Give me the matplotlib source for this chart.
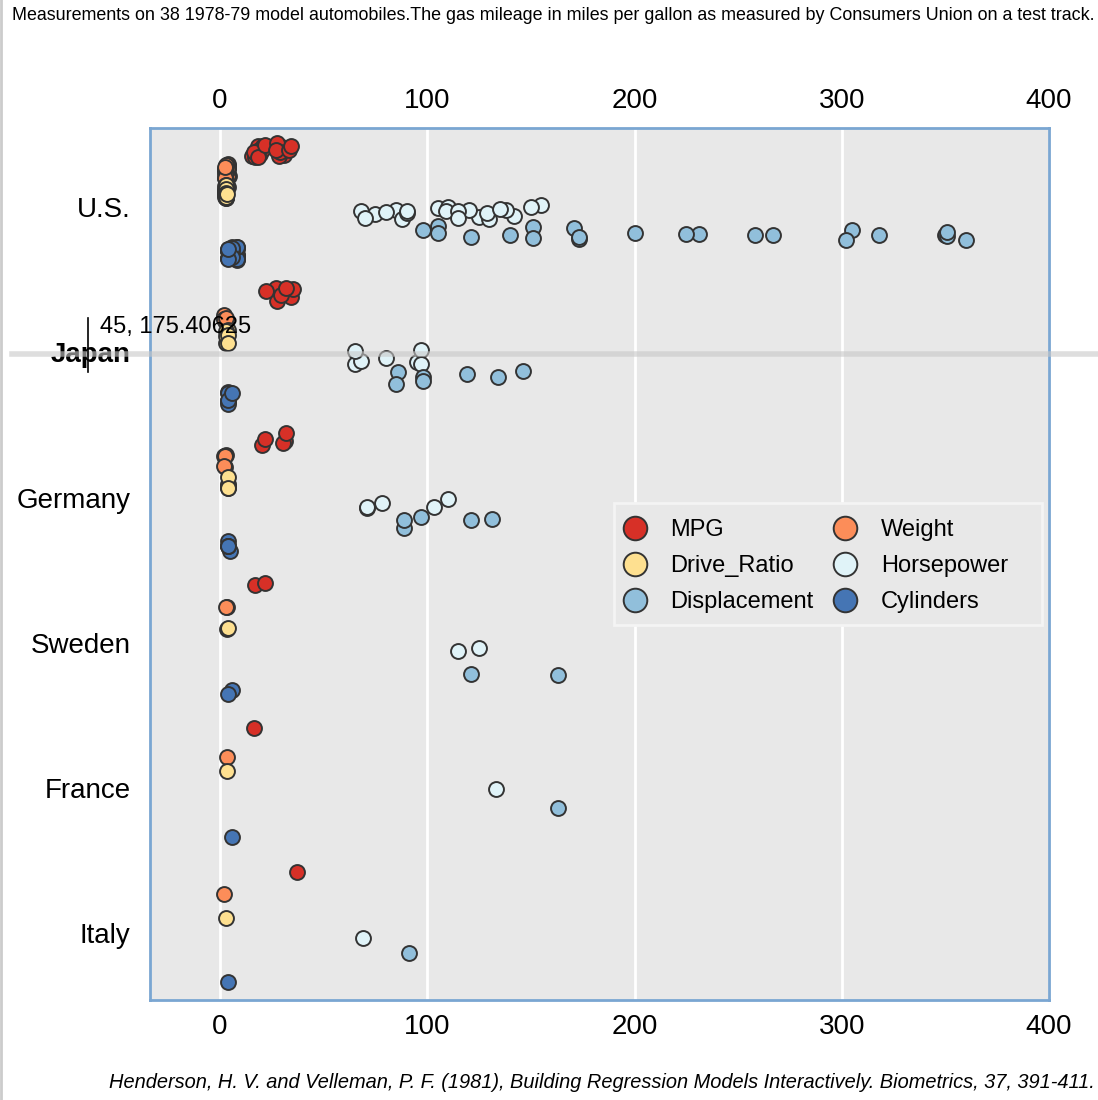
import numpy as np
import matplotlib

matplotlib.use("Agg")
import matplotlib.pyplot as plt
from matplotlib.lines import Line2D
from matplotlib.patches import Rectangle

plt.rcParams.update({"font.family": ["Liberation Sans", "DejaVu Sans"]})

# ---------------------------------------------------------------------------
# Data: 38 cars (Henderson & Velleman 1981)
# ---------------------------------------------------------------------------
countries = ["U.S.", "Japan", "Germany", "Sweden", "France", "Italy"]
variables = ["MPG", "Weight", "Drive_Ratio", "Horsepower", "Displacement", "Cylinders"]
palette = ["#d73027", "#fc8d59", "#fee090", "#e0f3f8", "#91bfdb", "#4575b4"]

country = [
    "U.S.", "U.S.", "U.S.", "U.S.", "U.S.", "Japan", "Japan", "U.S.", "Germany",
    "Sweden", "Sweden", "France", "U.S.", "U.S.", "U.S.", "U.S.", "U.S.", "U.S.",
    "U.S.", "U.S.", "U.S.", "U.S.", "Japan", "Japan", "U.S.", "Germany", "Japan",
    "U.S.", "U.S.", "U.S.", "U.S.", "U.S.", "Japan", "Italy", "Germany", "Japan",
    "Germany", "Germany",
]
mpg = [16.9, 15.5, 19.2, 18.5, 30.0, 27.5, 27.2, 30.9, 20.3, 17.0, 21.6, 16.2,
       20.6, 20.8, 18.6, 18.1, 17.0, 17.6, 16.5, 18.2, 26.5, 21.9, 34.1, 35.1,
       27.4, 31.5, 29.5, 28.4, 28.8, 26.8, 33.5, 34.2, 31.8, 37.3, 30.5, 22.0,
       21.5, 31.9]
weight = [4.360, 4.054, 3.605, 3.940, 2.155, 2.560, 2.300, 2.230, 2.830, 3.140,
          2.795, 3.410, 3.380, 3.070, 3.620, 3.410, 3.840, 3.725, 3.955, 3.830,
          2.585, 2.910, 1.975, 1.915, 2.670, 1.990, 2.135, 2.670, 2.595, 2.700,
          2.556, 2.200, 2.020, 2.130, 2.190, 2.815, 2.600, 1.925]
drive_ratio = [2.73, 2.26, 2.56, 2.45, 3.70, 3.05, 3.54, 3.37, 3.90, 3.50, 3.77,
               3.58, 2.73, 3.08, 2.71, 2.73, 2.41, 2.26, 2.26, 2.45, 3.08, 3.08,
               3.73, 2.97, 3.08, 3.78, 3.05, 2.53, 2.69, 2.84, 2.69, 3.37, 3.70,
               3.10, 3.70, 3.70, 3.64, 3.78]
horsepower = [155, 142, 125, 150, 68, 95, 97, 75, 103, 125, 115, 133, 105, 85,
              110, 120, 130, 129, 138, 135, 88, 109, 65, 80, 80, 71, 68, 90, 115,
              115, 90, 70, 65, 69, 78, 97, 110, 71]
displacement = [350, 351, 267, 360, 98, 134, 119, 105, 131, 163, 121, 163, 231,
                200, 225, 258, 305, 302, 351, 318, 140, 171, 86, 98, 121, 89, 98,
                151, 173, 173, 151, 105, 85, 91, 97, 146, 121, 89]
cylinders = [8, 8, 8, 8, 4, 4, 4, 4, 5, 6, 4, 6, 6, 6, 6, 6, 8, 8, 8, 8, 4, 6, 4,
             4, 4, 4, 4, 4, 6, 6, 4, 4, 4, 4, 4, 6, 4, 4]

columns = [mpg, weight, drive_ratio, horsepower, displacement, cylinders]

title = ("Measurements on 38 1978-79 model automobiles.The gas mileage in miles "
         "per gallon as measured by Consumers Union on a test track.")
source = ("Henderson, H. V. and Velleman, P. F. (1981), Building Regression Models "
          "Interactively. Biometrics, 37, 391-411.")

# ---------------------------------------------------------------------------
# Figure
# ---------------------------------------------------------------------------
W, H = 1098, 1100
fig = plt.figure(figsize=(W / 100, H / 100), dpi=100)
ax = fig.add_axes([150 / W, 100 / H, 899 / W, 872 / H])
ax.set_facecolor("#e8e8e8")

# dodge offsets for the six variables, plus a small strip jitter
step = 0.1425
offsets = (np.arange(6) - 2.5) * step - 0.036
rng = np.random.default_rng(7)
jitter = rng.uniform(-0.05, 0.05, size=(len(variables), len(country)))
cat_pos = np.array([countries.index(c) for c in country])

for j, (name, vals) in enumerate(zip(variables, columns)):
    ax.scatter(
        vals,
        cat_pos + offsets[j] + jitter[j],
        s=115,
        color=palette[j],
        edgecolor="#333333",
        linewidth=1.4,
        zorder=3,
        label=name,
    )

ax.set_xlim(-33.8, 400)
ax.set_ylim(5.458, -0.544)
ax.set_xticks([0, 100, 200, 300, 400])
ax.set_yticks(range(len(countries)))
ax.set_yticklabels(countries)
ax.tick_params(axis="x", labeltop=True, labelbottom=True, top=False, bottom=False,
               pad=6.5, labelsize=20)
ax.tick_params(axis="y", left=False, pad=10.5, labelsize=20)
ax.get_yticklabels()[1].set_fontweight("bold")
ax.grid(axis="x", color="white", lw=2, zorder=0)
ax.set_axisbelow(True)
for sp in ax.spines.values():
    sp.set_color("#7aa6d2")
    sp.set_linewidth(2)

# legend box drawn by hand (the reference has extra room on the right)
ax.add_patch(Rectangle((614 / W, 1 - 625 / H), 428 / W, 122 / H,
                       transform=fig.transFigure, facecolor="#e8e8e8",
                       edgecolor="#f4f4f4", lw=2, zorder=4.5, clip_on=False))

leg_handles = [
    Line2D([], [], marker="o", ls="none", markersize=17, markerfacecolor=c,
           markeredgecolor="#333333", markeredgewidth=1.4)
    for c in palette
]
# column-major order so that rows read MPG/Weight, Drive_Ratio/Horsepower, ...
order = [0, 2, 4, 1, 3, 5]
leg = ax.legend(
    [leg_handles[i] for i in order],
    [variables[i] for i in order],
    ncol=2,
    loc="center left",
    bbox_to_anchor=(0.5155, 0.4977),
    borderaxespad=0,
    fontsize=17,
    handlelength=1.0,
    handletextpad=1.0,
    columnspacing=0.85,
    labelspacing=0.6,
    borderpad=0.4,
    frameon=False,
)

fig.text(1095 / W, 1 - 16 / H, title, ha="right", va="center", fontsize=12.9)
fig.text(1095 / W, 1 - 1083 / H, source, ha="right", va="center", fontsize=14.45,
         style="italic")

# left border of the panel
fig.add_artist(Line2D([1 / W, 1 / W], [0, 1], color="#cccccc", lw=2))

# hover crosshair captured in the reference
fig.add_artist(Line2D([12 / W, 1], [1 - 354 / H, 1 - 354 / H], color="#c8c8c8",
                      lw=4, alpha=0.6, zorder=10))
fig.add_artist(Line2D([88 / W, 88 / W], [1 - 318 / H, 1 - 372 / H], color="black",
                      lw=1.2, zorder=10))
fig.text(100 / W, 1 - 327 / H, "45, 175.40625", ha="left", va="center",
         fontsize=17, zorder=11)

fig.savefig("out.png", dpi=100)
